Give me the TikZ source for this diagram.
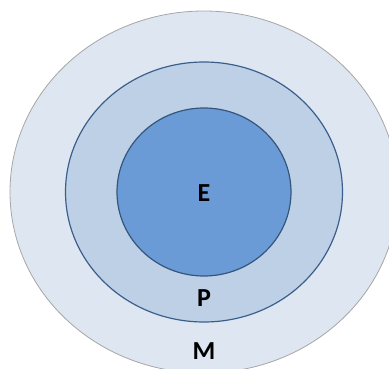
\documentclass[tikz,border=0pt]{standalone}
\usepackage{fontspec}
\setmainfont{Carlito}
\definecolor{outerfill}{HTML}{DEE6F1}
\definecolor{midfill}{HTML}{BED0E6}
\definecolor{innerfill}{HTML}{6A9BD6}
\definecolor{midline}{HTML}{3B5F8C}
\definecolor{innerline}{HTML}{34557C}
\definecolor{outerline}{HTML}{A6A6A6}
\begin{document}
\begin{tikzpicture}[x=1pt,y=-1pt,
  lbl/.style={font=\fontsize{26}{30}\selectfont\bfseries, text=black, inner sep=0pt}]
\useasboundingbox (0,0) rectangle (389,369);
\begin{scope}
\clip (0,0) rectangle (389,369);
% outer region M
\draw[outerline, fill=outerfill, line width=0.8pt] (204,192) ellipse [x radius=194, y radius=181];
% middle region P
\draw[midline, fill=midfill, line width=1.2pt] (204,192) ellipse [x radius=138.5, y radius=130];
% inner region E
\draw[innerline, fill=innerfill, line width=1.2pt] (204,192) ellipse [x radius=87, y radius=84];
\end{scope}
\node[lbl] (E) at (204,193) {E};
\node[lbl] (P) at (204,298) {P};
\node[lbl] (M) at (204,351) {M};
\end{tikzpicture}
\end{document}
